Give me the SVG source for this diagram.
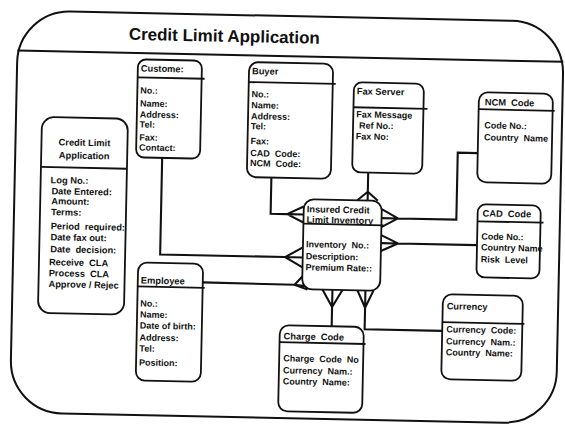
<svg xmlns="http://www.w3.org/2000/svg" width="565" height="431" viewBox="0 0 565 431">
<style>
.frame{fill:none;stroke:#111;stroke-width:2}
.box{fill:#fff;stroke:#111;stroke-width:1.8}
.hd{stroke:#111;stroke-width:1.8}
.cn{fill:none;stroke:#111;stroke-width:2.1}
text{font-family:"Liberation Sans",Arial,sans-serif;font-weight:bold;fill:#111}
.title{font-size:17px}
.t{font-size:9.3px}
.b{font-size:9px}
.c{text-anchor:middle}
.ws{word-spacing:2.5px}
</style>
<rect width="565" height="431" fill="#fff"/>
<!-- whole sheet is drawn slightly skewed -->
<g transform="rotate(1.2 282 215)">
  <g id="frame">
    <rect class="frame" x="14" y="16" width="546" height="402" rx="52"/>
    <line class="frame" x1="14" y1="56" x2="560" y2="56"/>
    <text class="title" x="125" y="43">Credit Limit Application</text>
  </g>

  <g id="connectors">
    <!-- Customer -->
    <path class="cn" d="M161 160.4V257H286M286 257L303.6 247M286 257H303.6M286 257L303.6 267"/>
    <!-- Buyer -->
    <path class="cn" d="M270.6 177.8V214H287M287 214L303.6 206M287 214H303.6M287 214L303.6 222"/>
    <!-- Fax Server -->
    <path class="cn" d="M367.3 170.8V190M367.3 190L357 198.7M367.3 190V198.7M367.3 190L377.5 198.7"/>
    <!-- NCM Code -->
    <path class="cn" d="M476.4 149H456.4V216H398M398 216L381.6 207M398 216H381.6M398 216L381.6 225"/>
    <!-- CAD Code -->
    <path class="cn" d="M477.6 241H398.5M398.5 241L381.6 233M398.5 241H381.6M398.5 241L381.6 249"/>
    <!-- Employee -->
    <path class="cn" d="M204.2 284L296 284.5M296 284.5L303.6 276M296 284.5L306.5 285.5M296 284.5L309 289"/>
    <!-- Charge Code -->
    <path class="cn" d="M334 325.2V306M334 306L324 288.7M334 306V288.7M334 306L344 288.7"/>
    <!-- Currency -->
    <path class="cn" d="M444.6 327.5H367V306M367 306L359 288.7M367 306V288.7M367 306L375 288.7"/>
  </g>

  <g id="credit-limit-application" transform="translate(40 122)">
    <rect class="box" width="86" height="196" rx="12"/>
    <line class="hd" x1="0" y1="50" x2="86" y2="50"/>
    <text class="t c" x="43" y="28">Credit Limit</text>
    <text class="t c" x="43" y="41">Application</text>
    <g class="t">
      <text x="10" y="66">Log No.:</text>
      <text x="11" y="77">Date Entered:</text>
      <text x="11" y="87">Amount:</text>
      <text x="11" y="98">Terms:</text>
      <text x="11" y="112" class="ws">Period required:</text>
      <text x="11" y="123">Date fax out:</text>
      <text x="11" y="135" class="ws">Date decision:</text>
      <text x="10" y="148" class="ws">Receive CLA</text>
      <text x="10" y="159" class="ws">Process CLA</text>
      <text x="10" y="170">Approve / Rejec</text>
    </g>
  </g>

  <g id="customer" transform="translate(134.8 62.4)">
    <rect class="box" width="64" height="98" rx="8"/>
    <line class="hd" x1="0" y1="18" x2="67" y2="18"/>
    <text class="t" x="3" y="12">Custome:</text>
    <g class="b">
      <text x="3" y="34">No.:</text>
      <text x="3" y="47">Name:</text>
      <text x="3" y="58">Address:</text>
      <text x="3" y="68">Tel:</text>
      <text x="3" y="81">Fax:</text>
      <text x="3" y="91">Contact:</text>
    </g>
  </g>

  <g id="buyer" transform="translate(246 62.8)">
    <rect class="box" width="84" height="115" rx="9"/>
    <line class="hd" x1="0" y1="20" x2="87" y2="20"/>
    <text class="t" x="3" y="12">Buyer</text>
    <g class="b">
      <text x="3" y="35">No.:</text>
      <text x="3" y="46">Name:</text>
      <text x="3" y="57">Address:</text>
      <text x="3" y="67">Tel:</text>
      <text x="3" y="82">Fax:</text>
      <text x="3" y="94" class="ws">CAD Code:</text>
      <text x="3" y="104" class="ws">NCM Code:</text>
    </g>
  </g>

  <g id="fax-server" transform="translate(351.2 80.8)">
    <rect class="box" width="70" height="90" rx="8"/>
    <line class="hd" x1="0" y1="25" x2="74" y2="25"/>
    <text class="t" x="3" y="12">Fax Server</text>
    <g class="b">
      <text x="3" y="35">Fax Message</text>
      <text x="6" y="46">Ref No.:</text>
      <text x="3" y="57">Fax No:</text>
    </g>
  </g>

  <g id="ncm-code" transform="translate(476.4 88.1)">
    <rect class="box" width="74" height="90" rx="9"/>
    <line class="hd" x1="0" y1="17" x2="76" y2="17"/>
    <text class="t ws" x="6" y="13">NCM Code</text>
    <g class="b">
      <text x="6" y="36">Code No.:</text>
      <text x="6" y="48" class="ws">Country Name</text>
    </g>
  </g>

  <g id="insured-credit-limit-inventory" transform="translate(303.6 198.7)">
    <rect class="box" width="78" height="90" rx="10"/>
    <text class="t" x="3" y="13">Insured Credit</text>
    <text class="t" x="3" y="23.5">Limit Inventory</text>
    <line class="hd" x1="0" y1="24.5" x2="80" y2="24.5"/>
    <g class="b">
      <text x="3" y="48" class="ws">Inventory No.:</text>
      <text x="3" y="60">Description:</text>
      <text x="3" y="71">Premium Rate::</text>
    </g>
  </g>

  <g id="cad-code" transform="translate(477.6 200.2)">
    <rect class="box" width="63" height="73" rx="8"/>
    <line class="hd" x1="0" y1="17" x2="66" y2="17"/>
    <text class="t ws" x="5" y="12">CAD Code</text>
    <g class="b">
      <text x="4" y="35">Code No.:</text>
      <text x="4" y="46">Country Name</text>
      <text x="4" y="58" class="ws">Risk Level</text>
    </g>
  </g>

  <g id="employee" transform="translate(139.2 265.4)">
    <rect class="box" width="65" height="118" rx="9"/>
    <line class="hd" x1="0" y1="24" x2="67" y2="24"/>
    <text class="t" x="3" y="21">Employee</text>
    <g class="b">
      <text x="3" y="44">No.:</text>
      <text x="3" y="55">Name:</text>
      <text x="3" y="66">Date of birth:</text>
      <text x="3" y="78">Address:</text>
      <text x="3" y="89">Tel:</text>
      <text x="3" y="103">Position:</text>
    </g>
  </g>

  <g id="charge-code" transform="translate(282.2 325.2)">
    <rect class="box" width="84" height="86" rx="9"/>
    <line class="hd" x1="0" y1="17" x2="86" y2="17"/>
    <text class="t ws" x="4" y="14">Charge Code</text>
    <g class="b">
      <text x="4" y="36" class="ws">Charge Code No</text>
      <text x="4" y="48" class="ws">Currency Nam.:</text>
      <text x="4" y="59" class="ws">Country Name:</text>
    </g>
  </g>

  <g id="currency" transform="translate(444.6 290.8)">
    <rect class="box" width="80" height="85" rx="9"/>
    <line class="hd" x1="0" y1="28" x2="82" y2="28"/>
    <text class="t" x="4" y="15">Currency</text>
    <g class="b">
      <text x="4" y="38" class="ws">Currency Code:</text>
      <text x="4" y="50" class="ws">Currency Nam.:</text>
      <text x="4" y="61" class="ws">Country Name:</text>
    </g>
  </g>
</g>
</svg>
